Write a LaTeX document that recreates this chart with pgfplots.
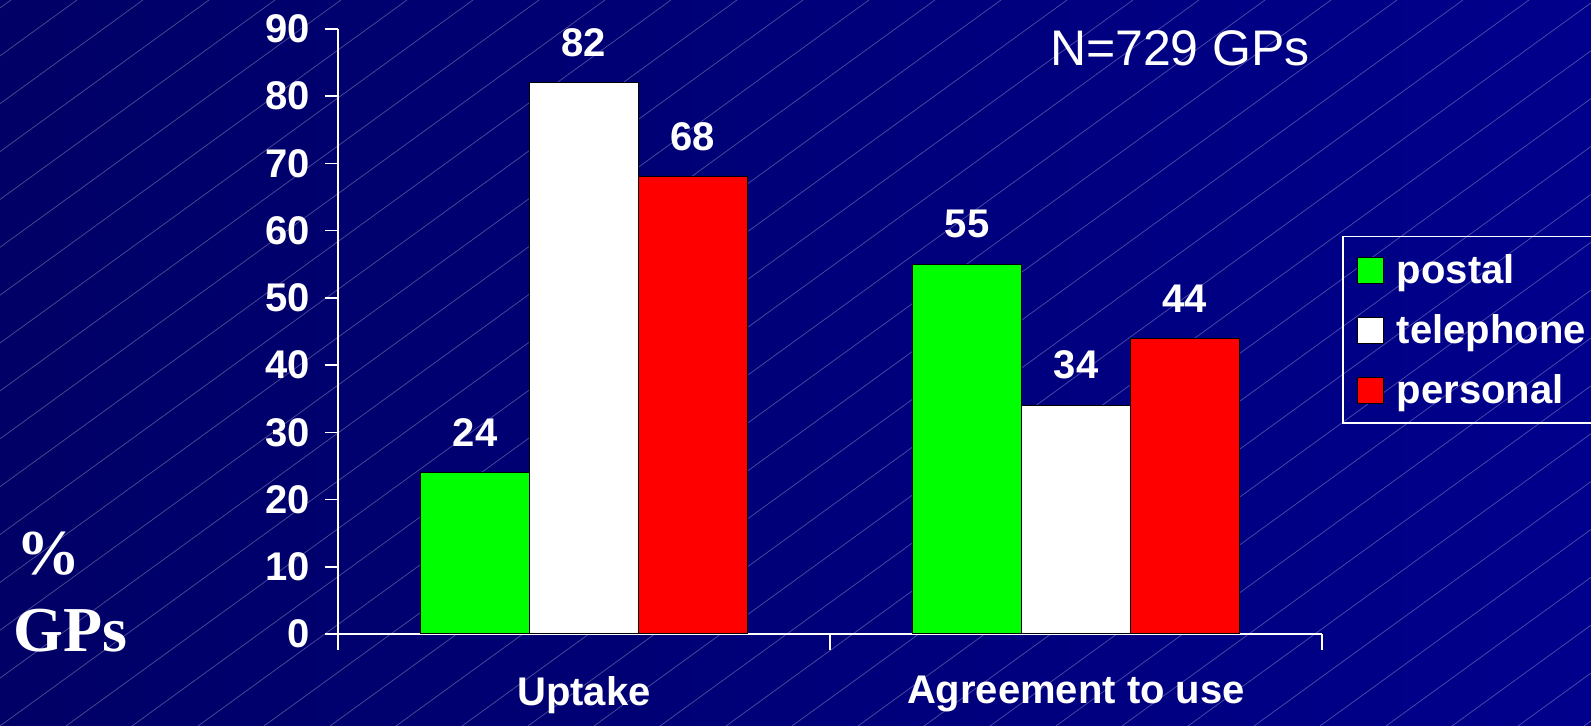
\documentclass[border=0pt]{standalone}
\usepackage{fontspec}
\setmainfont{Liberation Sans}
\newfontfamily\serifb{Liberation Serif}
\usepackage{pgfplots}
\pgfplotsset{compat=1.18}
\definecolor{bgleft}{RGB}{0,0,102}
\definecolor{bgright}{RGB}{0,0,140}
\definecolor{barg}{RGB}{0,255,0}
\definecolor{barr}{RGB}{255,0,0}
\begin{document}
\begin{tikzpicture}
\useasboundingbox (0,0) rectangle (795.5pt,363pt);
\clip (0,0) rectangle (795.5pt,363pt);
\shade[left color=bgleft,right color=bgright] (0,0) rectangle (795.5pt,363pt);
\foreach \i in {-17,...,26} {\draw[white,opacity=0.3,line width=0.35pt] (\i*33pt,0pt) -- ++(500.5pt,363pt);}
\begin{axis}[
  at={(169pt,46pt)}, anchor=south west,
  scale only axis, width=492pt, height=302.5pt,
  ybar=0pt, bar width=0.2213,
  xmin=-0.5, xmax=1.5, ymin=0, ymax=90,
  axis x line*=bottom, axis y line*=left,
  axis line style={white, line width=0.8pt},
  xtick={0,1}, xticklabels={Uptake, Agreement to use},
  major x tick style={draw=none},
  minor xtick={-0.5,0.5,1.5},
  ytick={0,10,...,90},
  tick align=outside,
  tick style={white, line width=0.8pt},
  major tick length=6.5pt, minor tick length=8pt,
  /pgf/number format/assume math mode=true,
  ticklabel style={white, font=\bfseries\fontsize{20}{24}\selectfont},
  xticklabel style={yshift=-11pt},
  yticklabel style={xshift=-4pt},
  nodes near coords,
  nodes near coords style={white, font=\bfseries\fontsize{20}{24}\selectfont, yshift=9.5pt},
  every axis plot/.append style={draw=black, line width=0.5pt},
  legend style={at={(1.0203,0.658)}, anchor=north west, draw=white, line width=0.8pt,
    fill=none, text=white, font=\bfseries\fontsize{20}{24}\selectfont,
    inner xsep=7pt, inner ysep=5.5pt, row sep=8pt, column sep=6.5pt,
    nodes={inner sep=0pt, text height=18pt, text depth=4pt, anchor=base west}},
  legend cell align=left,
  legend image code/.code={\draw[#1,draw=black,line width=0.6pt] (0pt,0pt) rectangle (13pt,13pt);},
]
\addplot[fill=barg] coordinates {(0,24) (1,55)};
\addplot[fill=white] coordinates {(0,82) (1,34)};
\addplot[fill=barr] coordinates {(0,68) (1,44)};
\legend{postal, telephone, personal}
\end{axis}
\node[white, font=\fontsize{25}{30}\selectfont] at (590pt,339pt) {N=729 GPs};
\node[white, anchor=base west, inner sep=0pt, font=\serifb\bfseries\fontsize{32}{36}\selectfont] at (8pt,75.5pt) {\%};
\node[white, anchor=base west, inner sep=0pt, font=\serifb\bfseries\fontsize{32}{36}\selectfont] at (6.5pt,37pt) {GPs};
\end{tikzpicture}
\end{document}
